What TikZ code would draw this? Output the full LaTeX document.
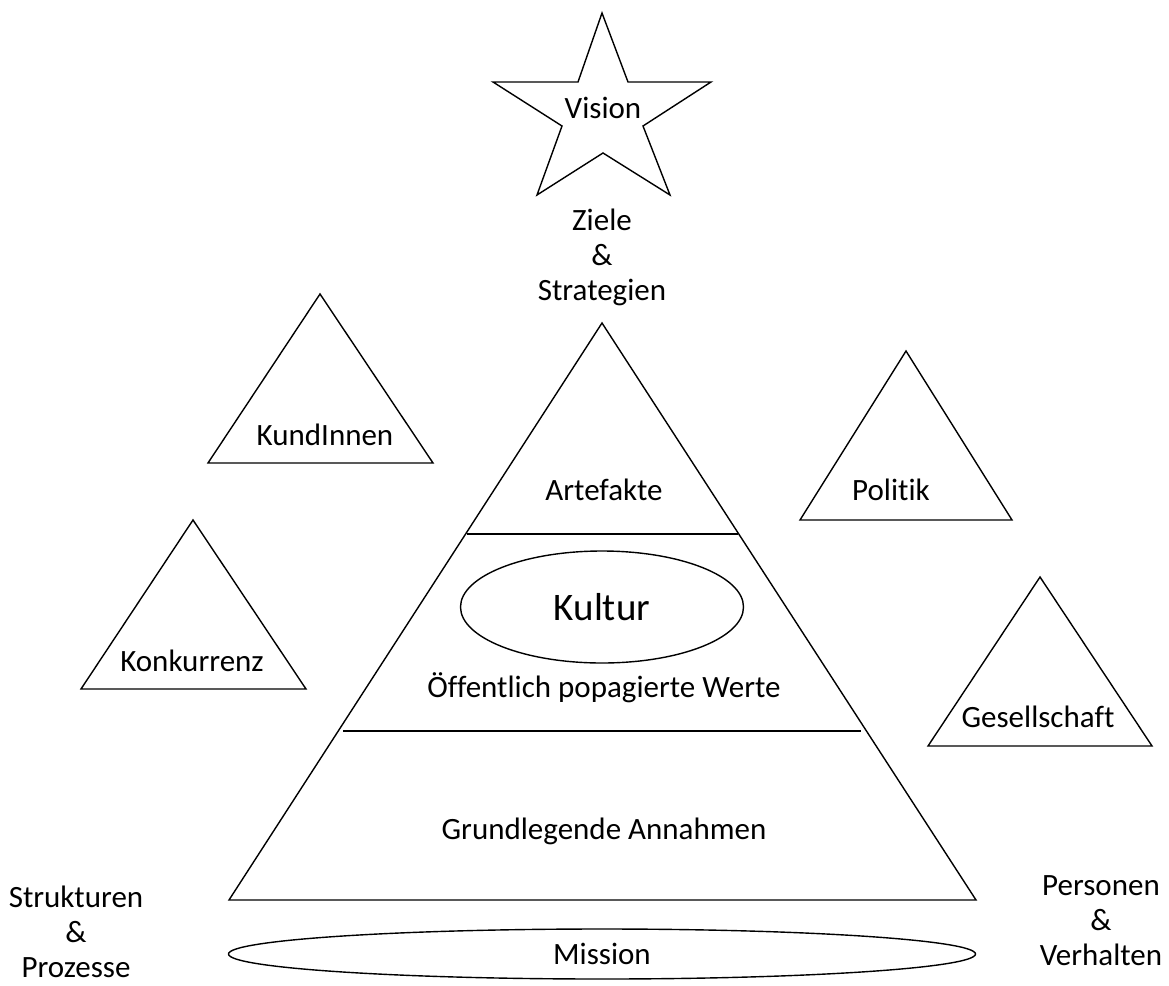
\documentclass[tikz,border=0pt]{standalone}
\usepackage{fontspec}
\setmainfont[Ligatures=NoCommon]{Carlito}
\usetikzlibrary{shapes.geometric}

\tikzstyle{txt} = [inner sep=0pt, align=center, font=\fontsize{31}{35}\selectfont]
\tikzstyle{big} = [inner sep=0pt, font=\fontsize{39}{44}\selectfont]
\tikzstyle{outline} = [draw, line width=1.4pt, line join=miter]

\begin{document}
\begin{tikzpicture}[x=1pt, y=-1pt]
    \useasboundingbox (0,0) rectangle (1169,985);

    % Stern oben
    \draw[outline] (602,13) -- (628,82) -- (711,82) -- (643,126) -- (670,195)
      -- (603,153) -- (537,195) -- (562,126) -- (493,82) -- (578,82) -- cycle;
    \node[txt] (vision) at (603,108) {Vision};
    \node[txt] (ziele) at (602,257) {Ziele\\\&\\Strategien};

    % Pyramide
    \draw[outline] (602,323) -- (976,900) -- (229,900) -- cycle;
    \draw[outline] (467,534) -- (738,534);
    \draw[outline] (343,731) -- (861,731);
    \node[txt] (artefakte) at (604,490) {Artefakte};
    \node[big, draw, ellipse, line width=1.4pt, minimum width=283pt, minimum height=112pt] (kultur) at (602,607) {Kultur};
    \node[txt] (werte) at (604,688) {Öffentlich popagierte Werte};
    \node[txt] (annahmen) at (604,831) {Grundlegende Annahmen};

    % Mission
    \node[txt, draw, ellipse, line width=1.4pt, minimum width=747pt, minimum height=50pt] (mission) at (602,954) {Mission};

    % Umwelt
    \draw[outline] (320,294) -- (433,463) -- (208,463) -- cycle;
    \node[txt] (kunden) at (325,435) {KundInnen};
    \draw[outline] (193,520) -- (306,689) -- (81,689) -- cycle;
    \node[txt] (konkurrenz) at (192,661) {Konkurrenz};
    \draw[outline] (906,351) -- (1012,520) -- (800,520) -- cycle;
    \node[txt] (politik) at (891,490) {Politik};
    \draw[outline] (1040,577) -- (1152,746) -- (928,746) -- cycle;
    \node[txt] (gesellschaft) at (1038,717) {Gesellschaft};

    \node[txt] (strukturen) at (76,932) {Strukturen\\\&\\Prozesse};
    \node[txt] (personen) at (1101,921) {Personen\\\&\\Verhalten};
\end{tikzpicture}
\end{document}
